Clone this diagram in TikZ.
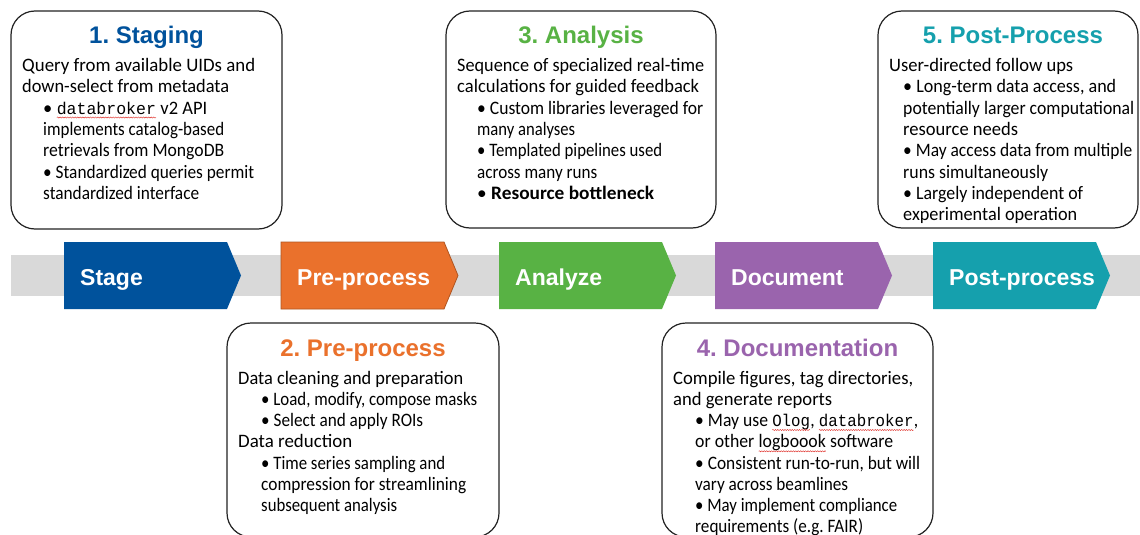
\documentclass[tikz,border=0pt]{standalone}
\usepackage{fontspec}
\setmainfont{Carlito}
\setmonofont{Liberation Mono}
\newfontfamily\headfont{Liberation Sans}
\usetikzlibrary{decorations.pathmorphing}
\frenchspacing

\definecolor{stageblue}{HTML}{00529C}
\definecolor{preorange}{HTML}{EA712C}
\definecolor{anagreen}{HTML}{58B244}
\definecolor{docpurple}{HTML}{9A64AD}
\definecolor{postteal}{HTML}{15A0AD}
\definecolor{bandgray}{HTML}{D9D9D9}
\definecolor{cardedge}{HTML}{222222}
\definecolor{spellred}{HTML}{E0302A}

% monospaced package names
\newcommand\code[1]{{\ttfamily\fontsize{17}{21}\selectfont #1}}
% wavy red underline under a word
\newcommand\spellmark[1]{\tikz[baseline=(spellword.base)]{%
  \node[inner sep=0pt,outer sep=0pt,anchor=base] (spellword) at (0,0) {#1};
  \draw[spellred,line width=0.45pt,decorate,
        decoration={snake,amplitude=0.55pt,segment length=2.6pt}]
    ([yshift=-3.4pt]spellword.base west) -- ([yshift=-3.4pt]spellword.base east);}}

\tikzset{
  card/.style={draw=cardedge,line width=1.2pt,rounded corners=24pt,fill=white},
  cardtitle/.style={anchor=base,inner sep=0pt,font=\headfont\bfseries\fontsize{24}{28}\selectfont},
  cardline/.style={anchor=base west,inner sep=0pt,font=\fontsize{19}{21}\selectfont},
  tag/.style={anchor=base west,inner sep=0pt,text=white,font=\headfont\bfseries\fontsize{23}{27}\selectfont},
}
% one line of card text: x, y, name, set width, text
\newcommand\cardrow[5]{\node[cardline] (#3) at (#1,#2) {\resizebox{#4pt}{\height}{#5}};}

\begin{document}
\begin{tikzpicture}[x=1pt,y=-1pt]
\clip (0,0) rectangle (1140,535);
\fill[white] (0,0) rectangle (1140,535);

% ---- process band with the five stage arrows ----
\fill[bandgray] (11,255) rectangle (1140,296);
\foreach \x/\c/\n/\t in {64/stageblue/stagetag/Stage,
                         281/preorange/pretag/Pre-process,
                         499/anagreen/anatag/Analyze,
                         715/docpurple/doctag/Document,
                         933/postteal/posttag/Post-process}{
  \fill[\c] (\x,242) -- ++(163,0) -- ++(14,33.5) -- ++(-14,33.5) -- ++(-163,0) -- cycle;
  \node[tag] (\n) at (\x+16,285) {\t};
}
\draw[preorange!75!black,line width=0.8pt] (281,242) -- ++(163,0) -- ++(14,33.5) -- ++(-14,33.5) -- ++(-163,0) -- cycle;

% ---- 1. Staging ----
\node[card,minimum width=271pt,minimum height=218pt] (stagingcard) at (146.5,120) {};
\node[cardtitle,text=stageblue] (stagingtitle) at (146.5,44) {1. Staging};
\cardrow{22}{71.5}{st1}{233}{Query from available UIDs and}
\cardrow{22}{92.8}{st2}{207}{down-select from metadata}
\cardrow{43}{114.1}{st3}{164}{\textbullet\ \spellmark{\code{databroker}} v2 API}
\cardrow{43}{135.4}{st4}{181}{implements catalog-based}
\cardrow{43}{156.7}{st5}{181}{retrievals from MongoDB}
\cardrow{43}{178.0}{st6}{211}{\textbullet\ Standardized queries permit}
\cardrow{43}{199.3}{st7}{156}{standardized interface}

% ---- 3. Analysis ----
\node[card,minimum width=270pt,minimum height=217pt] (analysiscard) at (581,119.5) {};
\node[cardtitle,text=anagreen] (analysistitle) at (581,44) {3. Analysis};
\cardrow{457}{71.5}{an1}{247}{Sequence of specialized real-time}
\cardrow{457}{92.8}{an2}{242}{calculations for guided feedback}
\cardrow{477}{114.1}{an3}{226}{\textbullet\ Custom libraries leveraged for}
\cardrow{477}{135.4}{an4}{98}{many analyses}
\cardrow{477}{156.7}{an5}{185}{\textbullet\ Templated pipelines used}
\cardrow{477}{178.0}{an6}{120}{across many runs}
\cardrow{477}{199.3}{an7}{177}{\textbullet\ \textbf{Resource bottleneck}}

% ---- 5. Post-Process ----
\node[card,minimum width=260pt,minimum height=217pt] (postcard) at (1008,119.5) {};
\node[cardtitle,text=postteal] (posttitle) at (1013,44) {5. Post-Process};
\cardrow{889}{71.5}{po1}{184}{User-directed follow ups}
\cardrow{903}{92.8}{po2}{213}{\textbullet\ Long-term data access, and}
\cardrow{903}{114.1}{po3}{231}{potentially larger computational}
\cardrow{903}{135.4}{po4}{115}{resource needs}
\cardrow{903}{156.7}{po5}{229}{\textbullet\ May access data from multiple}
\cardrow{903}{178.0}{po6}{145}{runs simultaneously}
\cardrow{903}{199.3}{po7}{180}{\textbullet\ Largely independent of}
\cardrow{903}{220.6}{po8}{174}{experimental operation}

% ---- 2. Pre-process ----
\node[card,minimum width=272pt,minimum height=214pt] (precard) at (363,430) {};
\node[cardtitle,text=preorange] (pretitle) at (363,356) {2. Pre-process};
\cardrow{238}{384.0}{pr1}{225}{Data cleaning and preparation}
\cardrow{261}{405.3}{pr2}{216}{\textbullet\ Load, modify, compose masks}
\cardrow{261}{426.6}{pr3}{162}{\textbullet\ Select and apply ROIs}
\cardrow{238}{447.9}{pr4}{114}{Data reduction}
\cardrow{261}{469.2}{pr5}{184}{\textbullet\ Time series sampling and}
\cardrow{261}{490.5}{pr6}{205}{compression for streamlining}
\cardrow{261}{511.8}{pr7}{136}{subsequent analysis}

% ---- 4. Documentation ----
\node[card,minimum width=271pt,minimum height=214pt] (doccard) at (797.5,430) {};
\node[cardtitle,text=docpurple] (doctitle) at (797.5,356) {4. Documentation};
\cardrow{673}{384.0}{do1}{240}{Compile figures, tag directories,}
\cardrow{673}{405.3}{do2}{159}{and generate reports}
\cardrow{695}{426.6}{do3}{223}{\textbullet\ May use \spellmark{\code{Olog}}, \spellmark{\code{databroker}},}
\cardrow{695}{447.9}{do4}{198}{or other \spellmark{logboook} software}
\cardrow{695}{469.2}{do5}{225}{\textbullet\ Consistent run-to-run, but will}
\cardrow{695}{490.5}{do6}{153}{vary across beamlines}
\cardrow{695}{511.8}{do7}{202}{\textbullet\ May implement compliance}
\cardrow{695}{532.6}{do8}{168}{requirements (e.g. FAIR)}
\end{tikzpicture}
\end{document}
